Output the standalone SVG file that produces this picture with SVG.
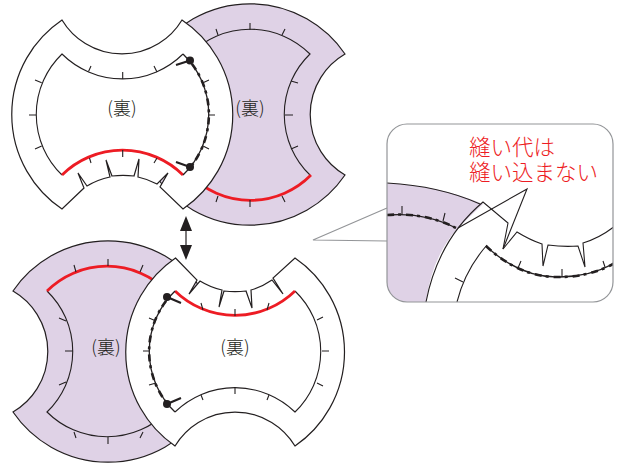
<svg xmlns="http://www.w3.org/2000/svg" width="621" height="463" viewBox="0 0 621 463">
<style>
.o{stroke:#231f20;stroke-width:1.2;stroke-linejoin:miter;fill:#fff}
.p{fill:#dfd2e6}
.l{fill:none;stroke:#231f20;stroke-width:1.1}
.r{fill:none;stroke:#ed1c24;stroke-width:2.8}
.s{fill:none;stroke:#231f20;stroke-width:1.3}
.d{fill:none;stroke:#231f20;stroke-width:2.6;stroke-dasharray:7 4 3 5}
.pin{fill:none;stroke:#231f20;stroke-width:2.2}
.lab{font-family:"Noto Sans CJK JP","Liberation Sans",sans-serif;font-size:18px;font-weight:300;fill:#231f20;text-anchor:middle}
.red{font-family:"Noto Sans CJK JP","Liberation Sans",sans-serif;font-size:21.5px;fill:#ed1c24;font-weight:300}
</style>
<defs>
<clipPath id="cb"><rect x="387" y="124" width="226" height="178" rx="20"/></clipPath>
</defs>

<g id="piece-top-purple">
<path class="o p" d="M155,54 A115,115 0 0 1 345,54 A70,70 0 0 0 345,175 A115,115 0 0 1 155,175 Z"/>
<path class="l" d="M190,54 A85,85 0 0 1 310,54 A84,84 0 0 0 310,175"/>
<path class="r" d="M190,175 A85,85 0 0 0 311,175"/>
<path class="l" d="M250,23V30M216,29L218,35M285,29L282,35M291,81L298,83M285,115H293M291,149L298,146M250,200V207M218,196L216,202M282,196L285,202"/>
<text class="lab" x="250" y="115">(裏)</text>
</g>

<g id="piece-top-white">
<path class="o" d="M62,20 A70,70 0 0 0 182,20 A114,114 0 0 1 183,209 L160,187 L168,173 L157,184 A72,72 0 0 0 138,177 L139,159 L134,176 A88,88 0 0 0 112,176 L106,160 L110,177 A72,72 0 0 0 87,186 L78,173 L84,188 L62,209 A114,114 0 0 1 62,20 Z"/>
<path class="l" d="M183,54 A86,86 0 0 1 62,54 A84,84 0 0 0 62,175"/>
<path class="r" d="M62,175 A86,86 0 0 1 183,175"/>
<path class="l" d="M122.700,72V79M91,66L88.500,71.500M154,66L157,72M35,80L41.700,82.700M29,115H36M35,149L41.700,146M203,82.700L209,80M208,115H215M203,146L209,149M122.700,150V157M89.500,158L91,163M154,163L157,158"/>
<path class="s" d="M183,54 A84,84 0 0 1 183,175"/>
<path class="d" d="M192,64 A84,84 0 0 1 192,165"/>
<circle cx="190" cy="60.500" r="4" fill="#231f20"/>
<circle cx="190" cy="167" r="4" fill="#231f20"/>
<path class="pin" d="M176,65L190,60.500M176,162L190,167"/>
<text class="lab" x="122" y="115">(裏)</text>
</g>

<g id="piece-bottom-purple">
<path class="o p" d="M13,291 A115,115 0 0 1 203,291 L203,412 A115,115 0 0 1 13,412 A70,70 0 0 0 13,291 Z"/>
<path class="l" d="M47,291 A84,84 0 0 1 47,412 A85,85 0 0 0 167,412"/>
<path class="r" d="M47,291 A85,85 0 0 1 167,291"/>
<path class="l" d="M108,259V266M74,265L76,272M143,265L140,272M59,318L66,321M65,351H73M59,385L66,382M108,437V444M74,432L76,438M143,432L140,438"/>
<text class="lab" x="106" y="354">(裏)</text>
</g>

<g id="piece-bottom-white">
<path class="o" d="M175.500,258 L197,280 L189,294 L200,281 A72,72 0 0 0 222,290 L219,307 L224,291 A88,88 0 0 0 246,291 L252,308 L251,290 A72,72 0 0 0 272,280 L283,294 L273,278 L295,258 A114,114 0 0 1 295,446 A70,70 0 0 0 175,446 A114,114 0 0 1 175.500,258 Z"/>
<path class="l" d="M175,412 A86,86 0 0 1 295,412 A84,84 0 0 0 295,291"/>
<path class="r" d="M175,291 A86,86 0 0 0 295,291"/>
<path class="l" d="M201,303L203,310M235,309V316M269,303L267,310M317,320L323,317M322,351H329M317,383L323,386M235,387V394M201,395L203,400M269,395L267,400M149,318L156,321M143,351H150M149,385L156,383"/>
<path class="s" d="M175,291 A84,84 0 0 0 175,412"/>
<path class="d" d="M166,301 A84,84 0 0 0 166,402"/>
<circle cx="167" cy="297" r="4" fill="#231f20"/>
<circle cx="167" cy="404" r="4" fill="#231f20"/>
<path class="pin" d="M181,303L167,297M181,398L167,404"/>
<text class="lab" x="235" y="354">(裏)</text>
</g>

<g id="connectors">
<path d="M186,228V248" fill="none" stroke="#231f20" stroke-width="1.2"/>
<path d="M186,216L192,231H180Z M186,260L192,245H180Z" fill="#231f20"/>
<path d="M387,208L313,240L387,241" fill="#fff" stroke="#939598" stroke-width="1.2"/>
</g>

<g id="callout">
<rect x="387" y="124" width="226" height="178" rx="20" fill="#fff"/>
<g clip-path="url(#cb)">
<path class="p" d="M387,183 Q440,186 483,204 L458,228 Q432,256 426,302 H387 Z"/>
<path class="l" d="M387,183 Q440,186 480,204"/>
<path class="l" d="M426,302 Q438,240 483,202 L508,223 L503,249 L517,232 Q530,240 542,244 L543,266 L548,245 Q563,247 578,246 L585,267 L583,243 Q600,238 615,226"/>
<path class="l" d="M457,302 Q465,270 487,245"/>
<path class="s" d="M387,215 Q425,212 456,228"/>
<path class="d" d="M387,215 Q425,212 456,228"/>
<path class="s" d="M486,246 Q520,278 560,277 Q590,277 615,263"/>
<path class="d" d="M486,246 Q520,278 560,277 Q590,277 615,263"/>
<path class="l" d="M402,206V215M445,213L443,221M521,261L518,268M562,269V277M603,261L605,267M455,278L463,282"/>
</g>
<rect x="387" y="124" width="226" height="178" rx="20" fill="none" stroke="#939598" stroke-width="1.2"/>
<path class="l" d="M458,228L527,189L503,249"/>
<text class="red"><tspan x="469" y="155">縫い代は</tspan><tspan x="469" y="180">縫い込まない</tspan></text>
</g>
</svg>
